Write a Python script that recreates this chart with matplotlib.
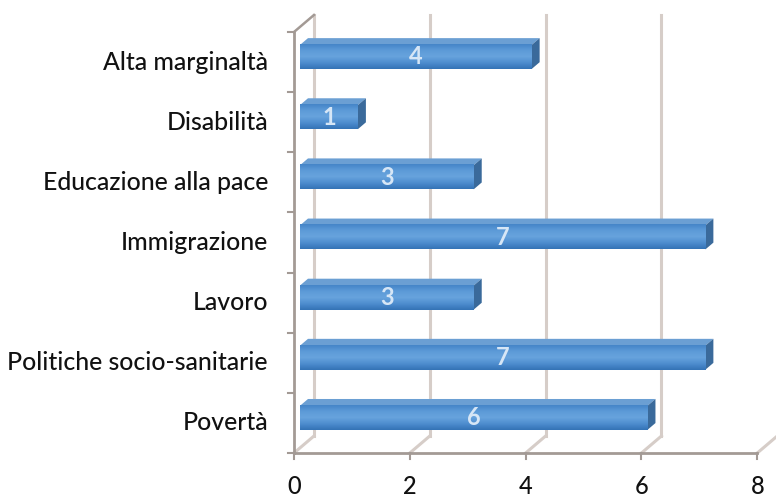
import matplotlib.pyplot as plt
import numpy as np
from matplotlib.patches import Polygon
from matplotlib.colors import LinearSegmentedColormap

categories = ["Alta marginaltà", "Disabilità", "Educazione alla pace", "Immigrazione",
              "Lavoro", "Politiche socio-sanitarie", "Povertà"]
values = [4, 1, 3, 7, 3, 7, 6]
x_ticks = [0, 2, 4, 6, 8]

plt.rcParams['font.family'] = ['Lato', 'DejaVu Sans']

fig = plt.figure(figsize=(7.76, 4.97), dpi=100)
ax = fig.add_axes([294 / 776, 44 / 497, (757.3 - 294) / 776, 421 / 497])
ax.set_xlim(0, 8)
ax.set_ylim(0, len(categories))
ax.axis("off")

# depth of the fake 3d box, in data units
dx, dy = 0.345, 0.283
f1, f2 = 0.3, 0.7   # bar front / back depth
h = 0.4

grid_col = "#d6cdc8"
axis_col = "#a39a95"
n = len(categories)
bar_cmap = LinearSegmentedColormap.from_list(
    "b", ["#4585c8", "#5d9bd8", "#67a3dd", "#4e8dcf", "#3473b6"])

# back wall gridlines and floor diagonals
for v in x_ticks:
    ax.plot([v + dx, v + dx], [dy, n + dy], color=grid_col, lw=2.2, clip_on=False, zorder=1)
    ax.plot([v, v + dx], [0, dy], color=grid_col, lw=2.2, clip_on=False, zorder=1)
# left wall
ax.plot([0, dx], [n, n + dy], color=axis_col, lw=1.8, clip_on=False, zorder=2)
ax.plot([0, 0], [0, n], color=axis_col, lw=2, clip_on=False, zorder=2)
ax.plot([0, 8], [0, 0], color=axis_col, lw=2, clip_on=False, zorder=2)
for k in range(n + 1):
    ax.plot([-0.1, 0], [k, k], color=axis_col, lw=1.5, clip_on=False, zorder=2)
for v in x_ticks:
    ax.plot([v, v], [0, -0.1], color=axis_col, lw=1.5, clip_on=False, zorder=2)
    ax.text(v, -0.55, str(v), ha="center", va="center", fontsize=17,
            fontweight="medium", color="#111111")

ypos = np.arange(n)[::-1] + 0.5
for yc, v, name in zip(ypos, values, categories):
    y0 = yc + f1 * dy
    bars = ax.barh(y0, v, left=f1 * dx, height=h, color="#4a8ccf", zorder=3)
    rect = bars[0]
    ax.imshow(np.linspace(0, 1, 50).reshape(-1, 1), cmap=bar_cmap,
              extent=[f1 * dx, f1 * dx + v, y0 - h / 2, y0 + h / 2], aspect="auto",
              origin="upper", zorder=3.5, clip_path=rect, clip_on=True)
    top = Polygon([(f1 * dx, y0 + h / 2), (f1 * dx + v, y0 + h / 2),
                   (f2 * dx + v, yc + f2 * dy + h / 2), (f2 * dx, yc + f2 * dy + h / 2)],
                  closed=True, facecolor="#6b9fd3", edgecolor="none", zorder=3, clip_on=False)
    side = Polygon([(f1 * dx + v, y0 - h / 2), (f1 * dx + v, y0 + h / 2),
                    (f2 * dx + v, yc + f2 * dy + h / 2), (f2 * dx + v, yc + f2 * dy - h / 2)],
                   closed=True, facecolor="#3a6a9b", edgecolor="none", zorder=3, clip_on=False)
    ax.add_patch(top)
    ax.add_patch(side)
    ax.text(f1 * dx + v / 2, y0, str(v), ha="center", va="center", fontsize=17,
            fontweight="bold", color="#d6e6f6", zorder=5)
    ax.text(-0.45, yc, name, ha="right", va="center", fontsize=17.8,
            fontweight="medium", color="#111111")

fig.savefig("out.png", dpi=100, facecolor="white")
